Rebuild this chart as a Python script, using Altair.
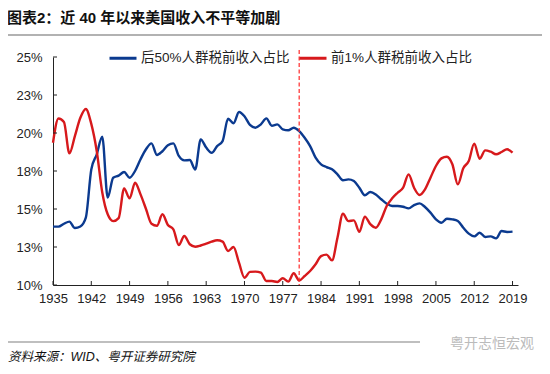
import altair as alt
import pandas as pd

years = list(range(1935, 2020))

bottom50 = [
    13.84, 13.84, 14.03, 14.17, 13.75, 13.85, 14.43, 17.60, 18.60, 19.76,
    15.75, 17.06, 17.20, 17.43, 17.06, 17.50, 18.27, 18.93, 19.32, 18.55,
    18.80, 19.20, 19.32, 18.49, 18.20, 18.22, 17.60, 19.58, 19.04, 18.70,
    19.14, 19.47, 20.94, 20.64, 21.38, 21.10, 20.53, 20.35, 20.57, 20.96,
    20.48, 20.57, 20.24, 20.18, 20.35, 20.13, 19.69, 19.14, 18.38, 17.94,
    17.76, 17.61, 17.28, 16.89, 16.95, 16.84, 16.40, 15.90, 16.12, 15.96,
    15.64, 15.35, 15.20, 15.20, 15.15, 15.04, 15.26, 15.37, 15.13, 14.76,
    14.32, 14.10, 14.36, 14.32, 14.21, 13.77, 13.38, 13.20, 13.44, 13.16,
    13.20, 13.07, 13.55, 13.49, 13.51,
]

top1 = [
    19.36, 20.95, 20.72, 18.66, 19.80, 21.00, 21.58, 20.60, 18.80, 16.10,
    14.65, 14.20, 14.40, 16.36, 15.70, 16.73, 15.96, 15.00, 14.03, 13.90,
    14.65, 13.95, 13.66, 12.63, 13.22, 12.68, 12.52, 12.60, 12.72, 12.85,
    12.94, 12.85, 12.24, 12.50, 11.47, 10.48, 10.86, 10.88, 10.81, 10.26,
    10.26, 10.20, 10.44, 10.22, 10.77, 10.30, 10.59, 10.92, 11.36, 11.90,
    12.00, 11.62, 13.11, 14.69, 14.20, 14.25, 13.50, 14.50, 14.00, 13.77,
    14.32, 15.20, 15.70, 16.07, 16.40, 17.28, 16.40, 15.92, 16.29, 17.06,
    17.83, 18.33, 18.44, 17.94, 16.62, 17.68, 18.16, 19.30, 18.31, 18.86,
    18.77, 18.60, 18.75, 18.93, 18.71,
]

series_names = ["后50%人群税前收入占比", "前1%人群税前收入占比"]
series_colors = ["#0B3A8F", "#D7191C"]
x_ticks = [1935, 1942, 1949, 1956, 1963, 1970, 1977, 1984, 1991, 1998, 2005, 2012, 2019]
y_ticks = [10, 12.5, 15, 17.5, 20, 22.5, 25]
marker_year = [1980]
title_text = "图表2：近 40 年以来美国收入不平等加剧"
source_text = "资料来源：WID、粤开证券研究院"
watermark_text = "粤开志恒宏观"

FONT = "Liberation Sans, Noto Sans CJK SC, sans-serif"
W, H = 465, 228

df = pd.DataFrame({
    "year": years + years,
    "value": bottom50 + top1,
    "series": [series_names[0]] * len(years) + [series_names[1]] * len(years),
})

x_scale = alt.Scale(domain=[1935, 2020], nice=False, zero=False)
y_scale = alt.Scale(domain=[10, 25], nice=False, zero=False)

x_axis = alt.Axis(
    values=x_ticks, format="d", title=None, grid=False, ticks=False,
    labelPadding=7, labelFontSize=13, labelColor="#222", labelFont=FONT,
    domainColor="#222", domainWidth=1, labelFlush=False, labelOverlap=False)
y_axis = alt.Axis(
    values=y_ticks, labelExpr="round(datum.value) + '%'", title=None, grid=False,
    ticks=False, labelPadding=11, labelFontSize=13, labelColor="#222",
    labelFont=FONT, domainColor="#222", domainWidth=1, labelFlush=False,
    labelOverlap=False)

X = alt.X("year:Q", scale=x_scale, axis=x_axis)
Y = alt.Y("value:Q", scale=y_scale, axis=y_axis)

lines = alt.Chart(df).mark_line(strokeWidth=2.4, interpolate="monotone").encode(
    x=X, y=Y,
    color=alt.Color("series:N", sort=series_names,
                    scale=alt.Scale(domain=series_names, range=series_colors),
                    legend=alt.Legend(title=None, orient="none", legendX=55, legendY=-14,
                                      direction="horizontal", symbolType="stroke",
                                      symbolSize=729, symbolStrokeWidth=3,
                                      labelFontSize=13.5, labelFont=FONT, labelColor="#222",
                                      columnPadding=3, labelOffset=3, labelLimit=300)),
)

xt = alt.Chart(pd.DataFrame({"year": x_ticks})).mark_rule(color="#222", strokeWidth=1).encode(
    x=X, y=alt.value(H), y2=alt.value(H - 4))
yt = alt.Chart(pd.DataFrame({"value": y_ticks})).mark_rule(color="#222", strokeWidth=1).encode(
    y=Y, x=alt.value(0), x2=alt.value(4))

dash = alt.Chart(pd.DataFrame({"year": marker_year})).mark_rule(
    color="#FF2A2A", strokeDash=[4, 2.5], strokeWidth=1.2).encode(
    x=X, y=alt.value(-7), y2=alt.value(H))

title = alt.Chart(pd.DataFrame({"t": [title_text]})).mark_text(
    align="left", baseline="middle", fontSize=15, fontWeight="bold", font=FONT, color="#111").encode(
    x=alt.value(-46), y=alt.value(-39), text="t:N")
title_line = alt.Chart(pd.DataFrame({"a": [0]})).mark_rule(color="#999", strokeWidth=1.5).encode(
    x=alt.value(-48), x2=alt.value(489), y=alt.value(-22))
foot_line = alt.Chart(pd.DataFrame({"a": [0]})).mark_rule(color="#aaa", strokeWidth=1.5).encode(
    x=alt.value(-48), x2=alt.value(367), y=alt.value(285))
source = alt.Chart(pd.DataFrame({"t": [source_text]})).mark_text(
    align="left", baseline="middle", fontSize=12.5, fontStyle="italic", font=FONT, color="#111").encode(
    x=alt.value(-45), y=alt.value(300), text="t:N")
mark = alt.Chart(pd.DataFrame({"t": [watermark_text]})).mark_text(
    align="left", baseline="middle", fontSize=14, font=FONT, color="#bbb").encode(
    x=alt.value(397), y=alt.value(287), text="t:N")

chart = alt.layer(lines, xt, yt, dash, title, title_line, foot_line, source, mark).properties(
    width=W, height=H,
    padding={"left": 45, "top": 49, "right": 24, "bottom": 80},
    autosize=alt.AutoSizeParams(type="none"),
    background="white",
).configure_view(stroke=None)

chart.save("out.html", embed_options={"renderer": "svg", "actions": False})
